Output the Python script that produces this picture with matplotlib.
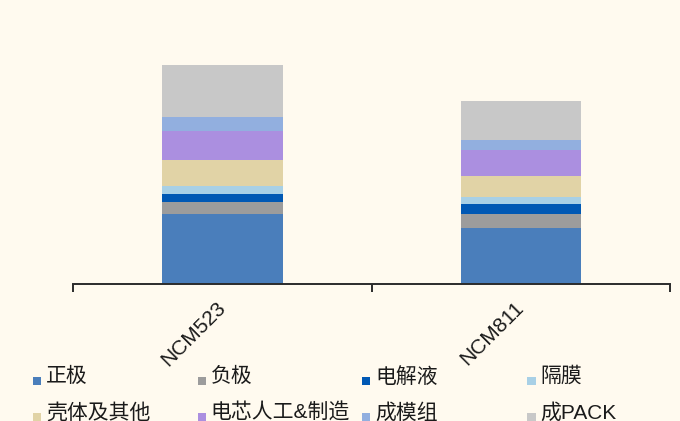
import matplotlib
matplotlib.use("Agg")
import matplotlib.pyplot as plt
import matplotlib.transforms as mtransforms
from matplotlib.patches import Rectangle
import numpy as np

plt.rcParams['font.family'] = ['Liberation Sans', 'Noto Sans CJK SC', 'DejaVu Sans']

# Cost breakdown of battery packs by component (stacked)
categories = ['NCM523', 'NCM811']
components = ['正极', '负极', '电解液', '隔膜', '壳体及其他', '电芯人工&制造', '成模组', '成PACK']
ncm523 = [70.6, 11.4, 8.0, 8.6, 25.4, 29.3, 14.3, 51.7]
ncm811 = [56.6, 14.0, 9.4, 7.3, 21.3, 25.7, 10.0, 39.3]
colors = ['#4A7EBB', '#9C9C9C', '#0058B4', '#A8D0E6', '#E1D3A6',
          '#AB8FE0', '#92AFDF', '#C8C8C8']

bg = '#FFFAEF'
W, H = 680, 421
fig = plt.figure(figsize=(W / 100, H / 100), dpi=100, facecolor=bg)

x0, x1 = 73.3, 670.0
y_axis, y_top = 284.3, 24.3
ax = fig.add_axes([x0 / W, 1 - y_axis / H, (x1 - x0) / W, (y_axis - y_top) / H])
ax.set_facecolor(bg)

values = np.array([ncm523, ncm811])
x = np.arange(len(categories))
bottom = np.zeros(len(categories))
for i, name in enumerate(components):
    ax.bar(x, values[:, i], width=0.404, bottom=bottom, color=colors[i],
           label=name, linewidth=0)
    bottom += values[:, i]

ax.set_xlim(-0.5, len(categories) - 0.5)
ax.set_ylim(0, 260)

for s in ['left', 'right', 'top']:
    ax.spines[s].set_visible(False)
ax.spines['bottom'].set_color('#2b2b2b')
ax.spines['bottom'].set_linewidth(1.4)
ax.set_yticks([])

# category labels at centres, tick marks at category boundaries
ax.set_xticks(x)
ax.set_xticks(np.arange(-0.5, len(categories)), minor=True)
ax.tick_params(axis='x', which='major', length=0, pad=14.5)
ax.tick_params(axis='x', which='minor', length=6, width=1.4, color='#2b2b2b')
ax.set_xticklabels(categories, rotation=45, ha='right', va='center',
                   rotation_mode='anchor', fontsize=15, color='#1a1a1a')
offset = mtransforms.ScaledTranslation(0.0, 0, fig.dpi_scale_trans)
for lab in ax.get_xticklabels():
    lab.set_transform(lab.get_transform() + offset)

# legend: 4 columns x 2 rows
col_x = [32.7, 197.5, 362.0, 527.0]
row_y = [376.5, 412.5]
sq = 8.5
for i, name in enumerate(components):
    r, c = divmod(i, 4)
    cx, cy = col_x[c], row_y[r]
    fig.patches.append(Rectangle((cx / W, 1 - (cy + 8.5) / H), sq / W, sq / H,
                                 transform=fig.transFigure, color=colors[i],
                                 linewidth=0))
    fig.text((cx + 13.3) / W, 1 - cy / H, name, fontsize=15, va='center',
             ha='left', color='#1a1a1a')

fig.savefig('out.png', dpi=100, facecolor=bg)
